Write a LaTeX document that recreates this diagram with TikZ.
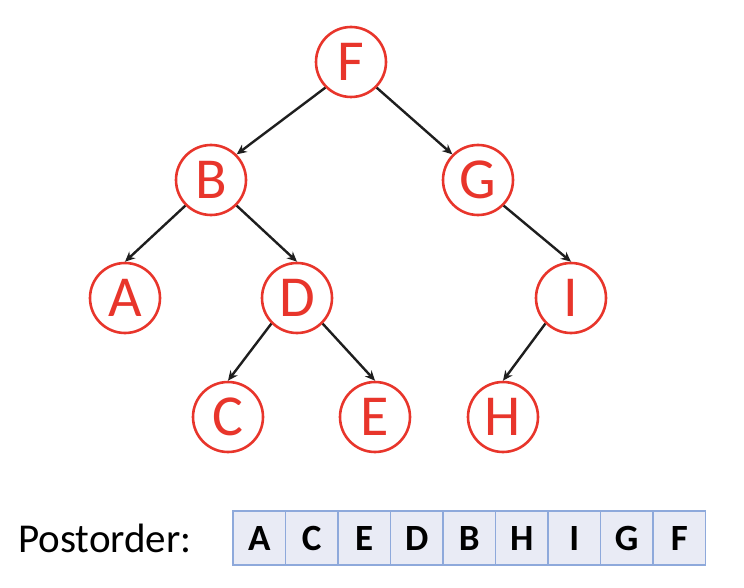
\documentclass[tikz,border=0pt]{standalone}
\usepackage{fontspec}
\setmainfont{Carlito}
\usetikzlibrary{arrows.meta}
\definecolor{nodered}{HTML}{E8352B}
\definecolor{cellfill}{HTML}{E9EBF5}
\definecolor{cellline}{HTML}{8EA9DB}
\definecolor{edgegray}{HTML}{1E1E1E}
\begin{document}
\begin{tikzpicture}[x=1pt,y=-1pt,
  treenode/.style={circle,draw=nodered,line width=2.6pt,fill=white,
    minimum size=70pt,inner sep=0pt,text=nodered,
    font=\fontsize{58}{60}\selectfont},
  edge/.style={draw=edgegray,line width=2.4pt,
    -{Stealth[length=10pt,width=9pt]}},
  cell/.style={rectangle,draw=cellline,fill=cellfill,line width=1.4pt,
    minimum width=52.5pt,minimum height=54pt,inner sep=0pt,
    font=\fontsize{37}{38}\selectfont\bfseries}]
  \useasboundingbox (0,0) rectangle (744,588);

  % tree
  \node[treenode] (F) at (351,62) {F};
  \node[treenode] (B) at (211,180) {B};
  \node[treenode] (G) at (478,180) {G};
  \node[treenode] (A) at (125,298) {A};
  \node[treenode] (D) at (297,298) {D};
  \node[treenode] (I) at (571,298) {I};
  \node[treenode] (C) at (228,417) {C};
  \node[treenode] (E) at (375,417) {E};
  \node[treenode] (H) at (503,417) {H};

  \draw[edge] (F.south west) -- (B.north east);
  \draw[edge] (F.south east) -- (G.north west);
  \draw[edge] (B.south west) -- (A.north);
  \draw[edge] (B.south east) -- (D.north);
  \draw[edge] (D.south west) -- (C.north);
  \draw[edge] (D.south east) -- (E.north);
  \draw[edge] (G.south east) -- (I.north);
  \draw[edge] (I.south west) -- (H.north);

  % traversal order
  \node[anchor=base west,inner sep=0pt,font=\fontsize{41}{42}\selectfont]
    (label) at (18,552) {Postorder:};
  \foreach \t [count=\i] in {A,C,E,D,B,H,I,G,F}
    \node[cell] (c\i) at ({233+52.5*(\i-0.5)},538) {\t};
\end{tikzpicture}
\end{document}
